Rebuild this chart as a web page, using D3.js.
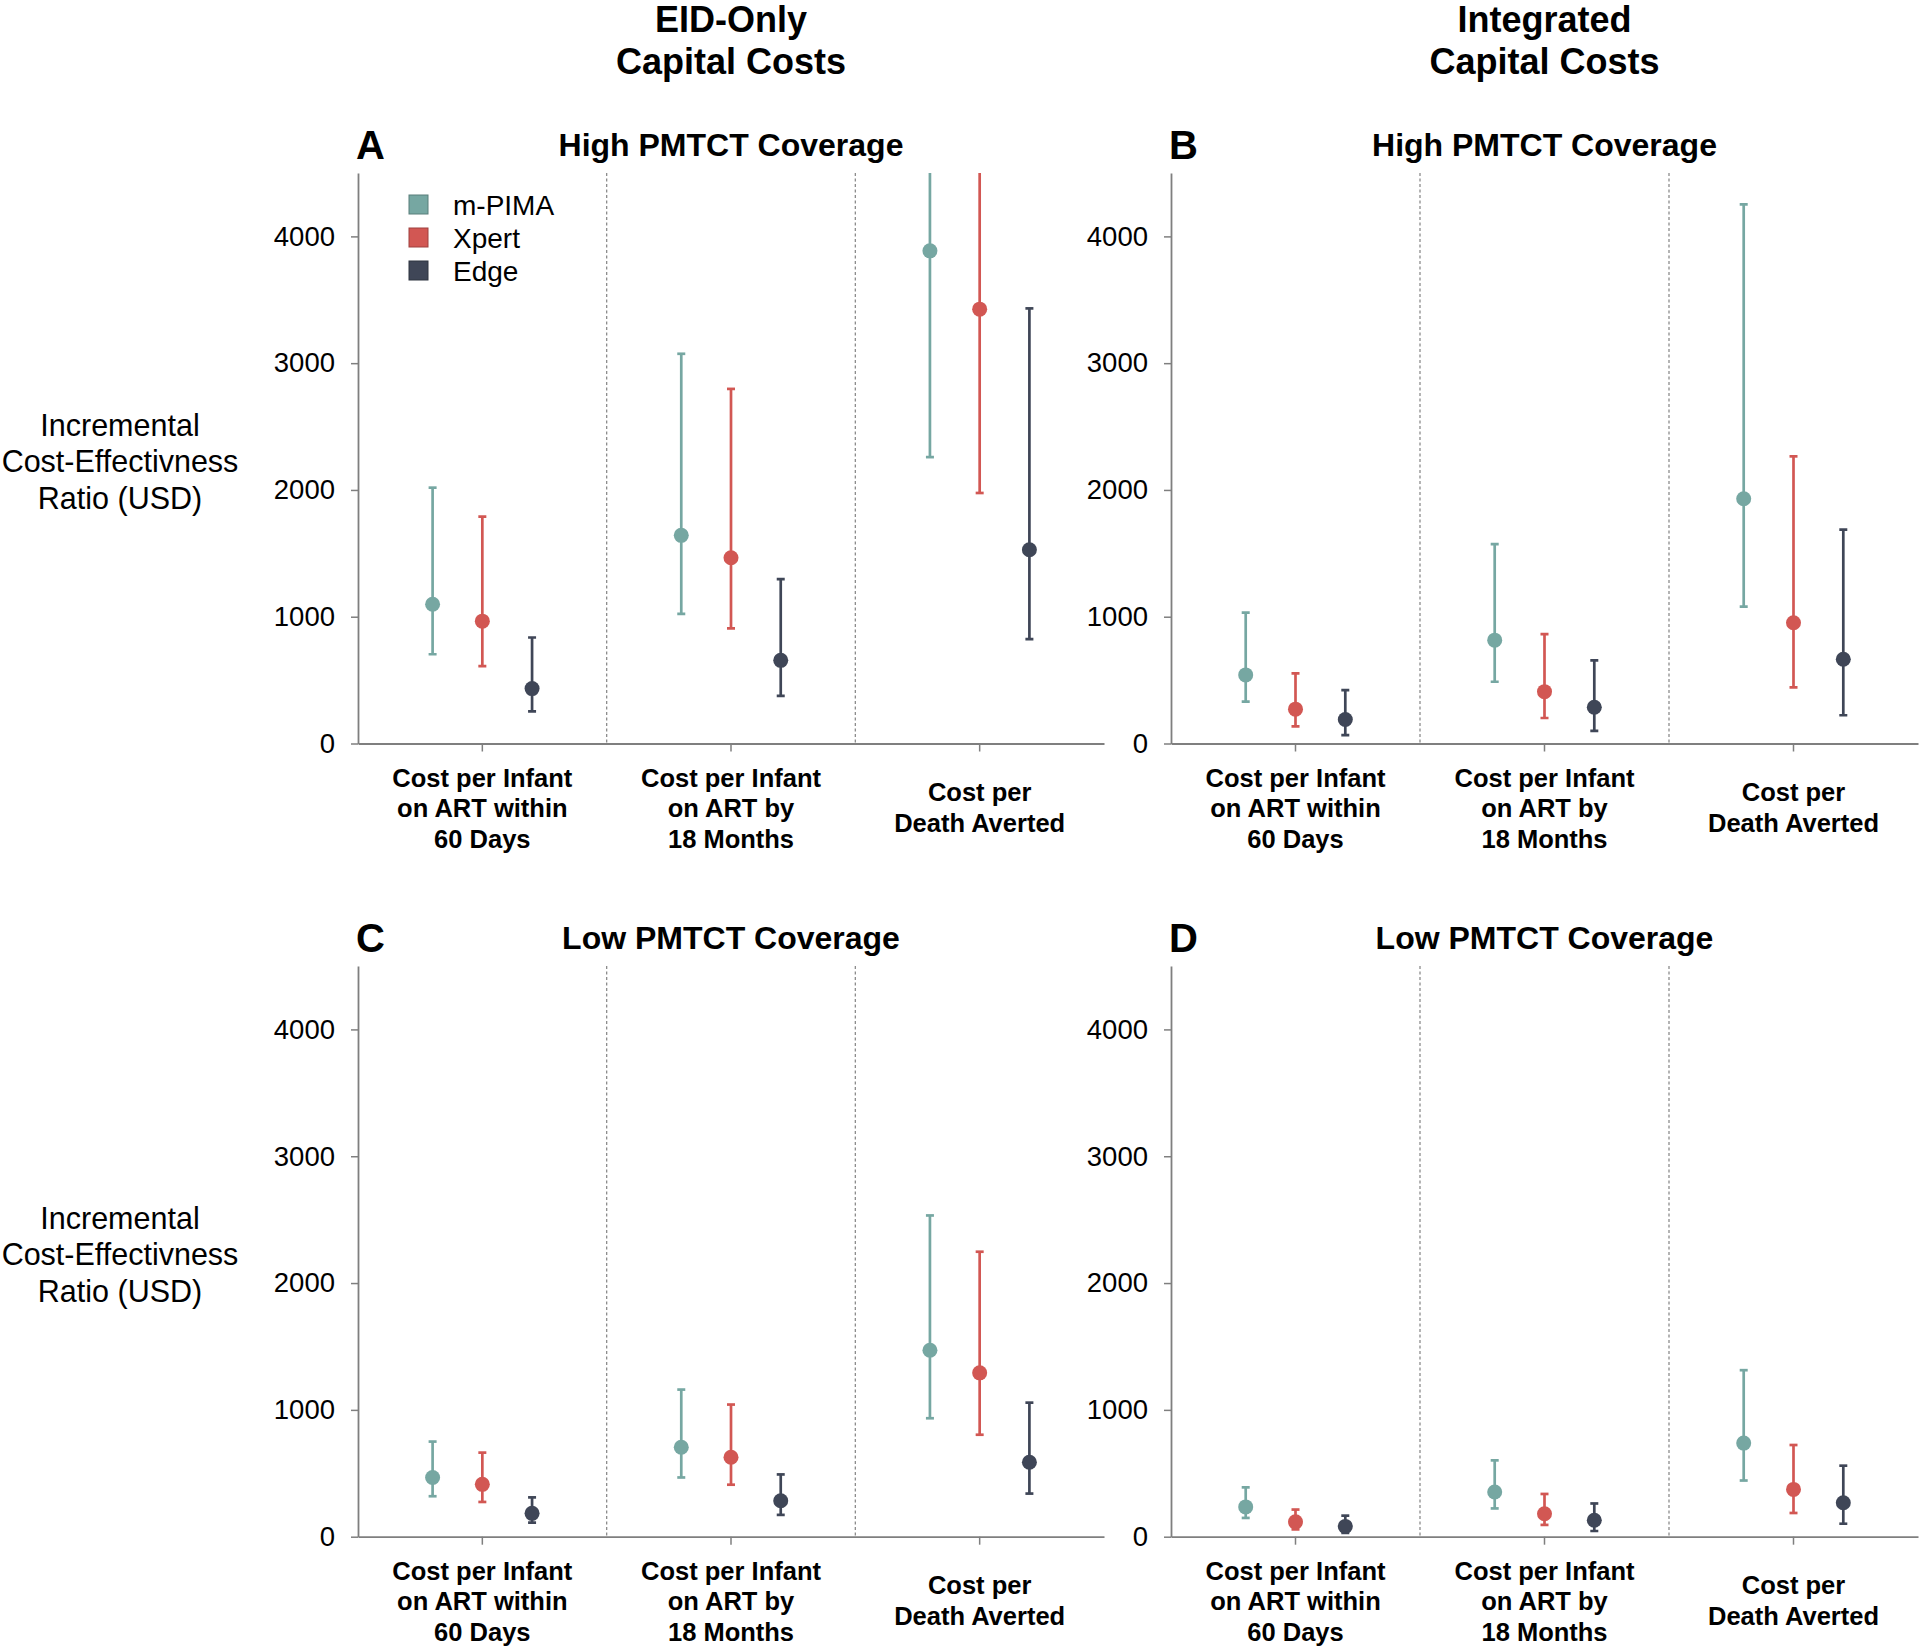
<!DOCTYPE html>
<html>
<head>
<meta charset="utf-8">
<script src="https://cdn.jsdelivr.net/npm/d3@7"></script>
<style>
  html, body { margin: 0; padding: 0; background: #ffffff; }
  svg { display: block; font-family: "Liberation Sans", Arial, Helvetica, sans-serif; }
</style>
</head>
<body>
<svg id="chart" width="1920" height="1647"></svg>
<script>
// ---------- data ----------
const categories = ["infant60", "infant18m", "death"];
const categoryLabels = [
  ["Cost per Infant", "on ART within", "60 Days"],
  ["Cost per Infant", "on ART by", "18 Months"],
  ["Cost per", "Death Averted"]
];
const seriesNames = ["m-PIMA", "Xpert", "Edge"];
const seriesColors = ["#76a7a2", "#d25753", "#3f4657"];
const yTicks = [0, 1000, 2000, 3000, 4000];
const columnTitles = [["EID-Only", "Capital Costs"], ["Integrated", "Capital Costs"]];
const panelLetters = ["A", "B", "C", "D"];
const panelTitles = ["High PMTCT Coverage", "High PMTCT Coverage", "Low PMTCT Coverage", "Low PMTCT Coverage"];
const yAxisLabel = ["Incremental", "Cost-Effectivness", "Ratio (USD)"];

// rows = categories, columns = series (m-PIMA, Xpert, Edge)
const estA  = [[1098, 965, 433], [1642, 1465, 656], [3886, 3426, 1528]];
const lowA  = [[704, 610, 253], [1023, 908, 376], [2259, 1976, 824]];
const highA = [[2018, 1789, 836], [3074, 2797, 1296], [5400, 5100, 3432]];

const estB  = [[541, 271, 189], [815, 409, 286], [1931, 953, 665]];
const lowB  = [[331, 135, 66], [487, 201, 99], [1080, 442, 223]];
const highB = [[1032, 553, 421], [1573, 863, 656], [4253, 2265, 1687]];

const estC  = [[467, 413, 184], [705, 627, 283], [1470, 1292, 587]];
const lowC  = [[319, 274, 111], [467, 410, 172], [934, 804, 340]];
const highC = [[750, 663, 310], [1160, 1042, 491], [2533, 2247, 1057]];

const estD  = [[235, 117, 81], [352, 181, 130], [738, 373, 268]];
const lowD  = [[148, 57, 30], [223, 93, 45], [443, 187, 102]];
const highD = [[389, 214, 166], [602, 337, 262], [1313, 723, 560]];

const panelData = [
  [estA, lowA, highA],
  [estB, lowB, highB],
  [estC, lowC, highC],
  [estD, lowD, highD]
];

// ---------- layout ----------
const svg = d3.select("#chart");
const FONT = '"Liberation Sans", Arial, Helvetica, sans-serif';
const colX = [[358, 1104], [1171, 1918]];
const rowY = [[743.5, 173], [1536.7, 966]];
const axisColor = "#7f7f7f";

// column titles
columnTitles.forEach((lines, c) => {
  const cx = (colX[c][0] + colX[c][1]) / 2;
  lines.forEach((t, i) => {
    svg.append("text")
      .attr("x", cx).attr("y", 32 + i * 42)
      .attr("text-anchor", "middle")
      .attr("font-size", 36).attr("font-weight", "bold")
      .attr("fill", "#000").text(t);
  });
});

// y-axis labels (one per row)
rowY.forEach(([y0, y1]) => {
  const mid = (y0 + y1) / 2 + 3;
  yAxisLabel.forEach((t, i) => {
    svg.append("text")
      .attr("x", 120).attr("y", mid + (i - 1) * 36.5 + 11)
      .attr("text-anchor", "middle")
      .attr("font-size", 30.5).attr("fill", "#000").text(t);
  });
});

panelData.forEach((pd, p) => {
  const c = p % 2, r = Math.floor(p / 2);
  const [x0, x1] = colX[c];
  const [yb, yt] = rowY[r];
  const [est, low, high] = pd;

  const x = d3.scaleBand().domain(categories).range([x0, x1]);
  const off = d3.scalePoint().domain(seriesNames).range([-0.2 * x.bandwidth(), 0.2 * x.bandwidth()]);
  const y = d3.scaleLinear().domain([0, 4500]).range([yb, yt]);

  const g = svg.append("g");

  // letter and title
  g.append("text").attr("x", x0 - 2).attr("y", yt - 14)
    .attr("font-size", 40).attr("font-weight", "bold").attr("fill", "#000")
    .text(panelLetters[p]);
  g.append("text").attr("x", (x0 + x1) / 2).attr("y", yt - 17)
    .attr("text-anchor", "middle")
    .attr("font-size", 32).attr("font-weight", "bold").attr("fill", "#000")
    .text(panelTitles[p]);

  // dashed separators
  categories.slice(1).forEach(cat => {
    g.append("line")
      .attr("x1", x(cat)).attr("x2", x(cat))
      .attr("y1", y(4500)).attr("y2", y(0))
      .attr("stroke", "#8c8c8c").attr("stroke-width", 1.3)
      .attr("stroke-dasharray", "3,2.5");
  });

  // y axis
  const ya = g.append("g").attr("transform", `translate(${x0},0)`)
    .call(d3.axisLeft(y).tickValues(yTicks).tickFormat(d3.format("d"))
      .tickSize(7).tickSizeOuter(0).tickPadding(16));
  ya.select(".domain").attr("stroke", axisColor).attr("stroke-width", 1.8);
  ya.selectAll(".tick line").attr("stroke", axisColor).attr("stroke-width", 1.5);
  ya.selectAll(".tick text").attr("font-size", 27.5).attr("font-family", FONT).attr("fill", "#000");

  // x axis
  const xa = g.append("g").attr("transform", `translate(0,${yb})`)
    .call(d3.axisBottom(x).tickSize(8).tickSizeOuter(0).tickFormat(""));
  xa.select(".domain").attr("stroke", axisColor).attr("stroke-width", 1.8);
  xa.selectAll(".tick line").attr("stroke", axisColor).attr("stroke-width", 1.5);

  // category labels
  categories.forEach((cat, ci) => {
    const lines = categoryLabels[ci];
    const startY = lines.length === 3 ? yb + 43 : yb + 57.5;
    lines.forEach((t, li) => {
      g.append("text")
        .attr("x", x(cat) + x.bandwidth() / 2).attr("y", startY + li * 30.7)
        .attr("text-anchor", "middle")
        .attr("font-size", 25.5).attr("font-weight", "bold").attr("fill", "#000")
        .text(t);
    });
  });

  // clip
  const clipId = "clip" + p;
  svg.append("clipPath").attr("id", clipId)
    .append("rect").attr("x", x0).attr("y", yt).attr("width", x1 - x0).attr("height", yb - yt);

  const marks = g.append("g").attr("clip-path", `url(#${clipId})`);
  categories.forEach((cat, ci) => {
    seriesNames.forEach((s, si) => {
      const cx = x(cat) + x.bandwidth() / 2 + off(s);
      const col = seriesColors[si];
      const lo = low[ci][si], hi = high[ci][si], mid = est[ci][si];
      marks.append("line").attr("x1", cx).attr("x2", cx)
        .attr("y1", y(lo)).attr("y2", y(hi))
        .attr("stroke", col).attr("stroke-width", 2.7);
      [lo, hi].forEach(v => {
        marks.append("line").attr("x1", cx - 4).attr("x2", cx + 4)
          .attr("y1", y(v)).attr("y2", y(v))
          .attr("stroke", col).attr("stroke-width", 2.7);
      });
      marks.append("circle").attr("cx", cx).attr("cy", y(mid)).attr("r", 7.5)
        .attr("fill", col);
    });
  });

  // legend in panel A only
  if (p === 0) {
    const lg = g.append("g");
    seriesNames.forEach((s, si) => {
      const cy = 204.5 + si * 33;
      lg.append("rect").attr("x", 409).attr("y", cy - 9.5).attr("width", 19).attr("height", 19)
        .attr("fill", seriesColors[si]).attr("stroke", d3.color(seriesColors[si]).darker(0.8))
        .attr("stroke-width", 1);
      lg.append("text").attr("x", 453).attr("y", cy + 10)
        .attr("font-size", 28).attr("fill", "#000").text(s);
    });
  }
});
</script>
</body>
</html>
